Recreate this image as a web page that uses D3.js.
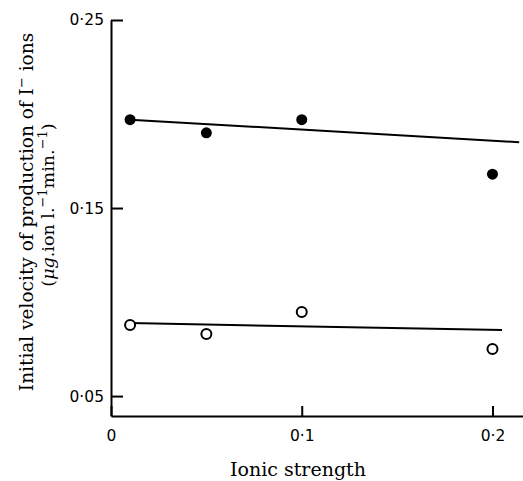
<!DOCTYPE html>
<html>
<head>
<meta charset="utf-8">
<script src="https://cdn.jsdelivr.net/npm/d3@7"></script>
<style>
  body { margin: 0; background: #fff; }
  svg { display: block; }
</style>
</head>
<body>
<script>
const width = 523;
const height = 481;

// ionic strength values of the measured points
const ionicStrength = [0.01, 0.05, 0.1, 0.2];
// filled circles
const filledValues = [0.197, 0.190, 0.197, 0.168];
// open circles
const openValues = [0.0878, 0.083, 0.0947, 0.075];

// fitted straight lines, [x, y] ends
const filledLine = [[0.01, 0.197], [0.214, 0.185]];
const openLine = [[0.01, 0.0888], [0.205, 0.0851]];

const xTicks = [0, 0.1, 0.2];
const xTickLabels = ["0", "0·1", "0·2"];
const yTicks = [0.05, 0.15, 0.25];
const yTickLabels = ["0·05", "0·15", "0·25"];

const xScale = d3.scaleLinear().domain([0, 0.216]).range([111, 523]);
const yScale = d3.scaleLinear().domain([0.0394, 0.25]).range([416, 20]);

const svg = d3.select('body').append('svg')
    .attr("width", width).attr("height", height);

// y axis, ticks pointing inwards
const yAxis = d3.axisLeft(yScale)
    .tickValues(yTicks)
    .tickFormat((d, i) => yTickLabels[i])
    .tickSizeInner(-12).tickSizeOuter(0).tickPadding(20);

const gy = svg.append('g').attr("transform", "translate(111,0)").call(yAxis);
gy.attr("font-size", null).attr("font-family", null);
gy.select('.domain').attr("stroke-width", 2);
gy.selectAll('.tick line').attr("stroke-width", 2);
gy.selectAll('.tick text')
    .style("font-family", "'DejaVu Sans', sans-serif")
    .style("font-size", "15.5px").attr("x", -7).attr("fill", "#000");

// x axis, ticks pointing up
const xAxis = d3.axisBottom(xScale)
    .tickValues(xTicks)
    .tickFormat((d, i) => xTickLabels[i])
    .tickSizeInner(-10).tickSizeOuter(0).tickPadding(14);

const gx = svg.append('g').attr("transform", "translate(0,416)").call(xAxis);
gx.attr("font-size", null).attr("font-family", null);
gx.select('.domain').attr("stroke-width", 2);
gx.selectAll('.tick line').attr("stroke-width", 2);
gx.selectAll('.tick text')
    .style("font-family", "'DejaVu Sans', sans-serif")
    .style("font-size", "15.5px").attr("fill", "#000");

// fitted lines
const line = d3.line().x(d => xScale(d[0])).y(d => yScale(d[1]));
[filledLine, openLine].forEach(l => {
    svg.append('path').attr("d", line(l))
        .attr("fill", "none").attr("stroke", "#000").attr("stroke-width", 2);
});

// points
svg.selectAll('.filled').data(ionicStrength).enter().append('circle')
    .attr("class", "filled")
    .attr("cx", d => xScale(d))
    .attr("cy", (d, i) => yScale(filledValues[i]))
    .attr("r", 5.5).attr("fill", "#000");

svg.selectAll('.open').data(ionicStrength).enter().append('circle')
    .attr("class", "open")
    .attr("cx", d => xScale(d))
    .attr("cy", (d, i) => yScale(openValues[i]))
    .attr("r", 5).attr("fill", "#fff")
    .attr("stroke", "#000").attr("stroke-width", 2);

// axis titles
svg.append('text')
    .attr("x", 298).attr("y", 476)
    .attr("text-anchor", "middle")
    .style("font-family", "'DejaVu Serif', serif").style("font-size", "19px")
    .text("Ionic strength");

const yTitle = svg.append('text')
    .attr("transform", "translate(33,212) rotate(-90)")
    .attr("text-anchor", "middle")
    .style("font-family", "'DejaVu Serif', serif").style("font-size", "18.5px");
yTitle.append('tspan').text("Initial velocity of production of I");
yTitle.append('tspan').attr("dy", -7).style("font-size", "13px").text("\u2212");
yTitle.append('tspan').attr("dy", 7).text(" ions");

const yTitle2 = svg.append('text')
    .attr("transform", "translate(54,205) rotate(-90)")
    .attr("text-anchor", "middle")
    .style("font-family", "'DejaVu Serif', serif").style("font-size", "17.5px");
yTitle2.append('tspan').text("(");
yTitle2.append('tspan').style("font-style", "italic").text("\u03bcg");
yTitle2.append('tspan').text(".ion l.");
yTitle2.append('tspan').attr("dy", -7).style("font-size", "13px").text("\u22121");
yTitle2.append('tspan').attr("dy", 7).text("min.");
yTitle2.append('tspan').attr("dy", -7).style("font-size", "13px").text("\u22121");
yTitle2.append('tspan').attr("dy", 7).text(")");
</script>
</body>
</html>
